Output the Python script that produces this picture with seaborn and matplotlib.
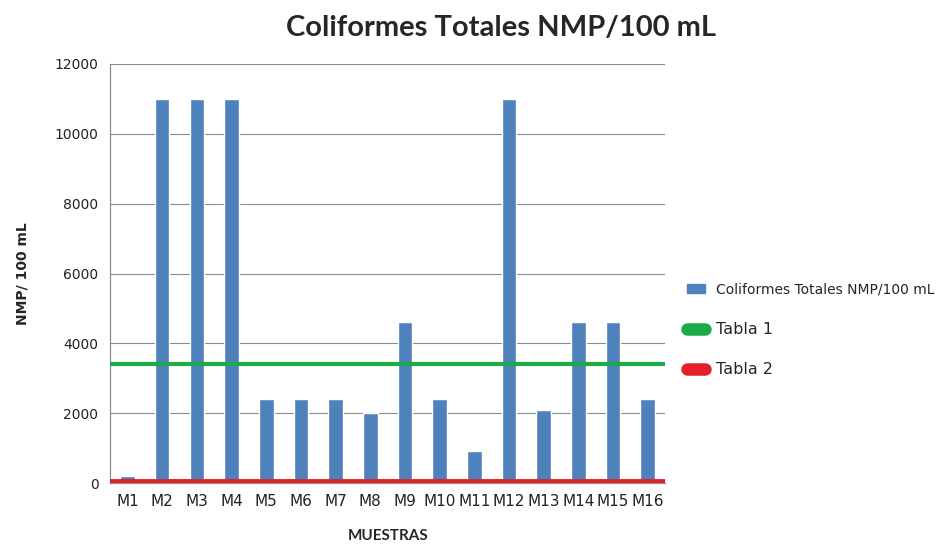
import matplotlib
matplotlib.use("Agg")
import matplotlib.pyplot as plt
import seaborn as sns
import pandas as pd
from matplotlib.lines import Line2D
from matplotlib.patches import Patch

# datos
muestras = ['M1', 'M2', 'M3', 'M4', 'M5', 'M6', 'M7', 'M8',
            'M9', 'M10', 'M11', 'M12', 'M13', 'M14', 'M15', 'M16']
coliformes = [220, 11000, 11000, 11000, 2400, 2400, 2400, 2000,
              4600, 2400, 930, 11000, 2100, 4600, 4600, 2400]
tabla1 = 3400
tabla2 = 60

azul = '#4F81BD'
verde = '#1DAA4B'
rojo = '#E3202A'

df = pd.DataFrame({'Muestra': muestras, 'Valor': coliformes})

sns.set_style('white')
plt.rcParams['font.family'] = ['DejaVu Sans']

fig = plt.figure(figsize=(9.5, 5.46), dpi=100)
ax = fig.add_axes([0.116, 0.115, 0.584, 0.768])

sns.barplot(data=df, x='Muestra', y='Valor', color=azul, width=0.42,
            saturation=1, ax=ax, zorder=2)
ax.axhline(tabla1, color=verde, lw=3, zorder=3)
ax.axhline(tabla2, color=rojo, lw=3.5, zorder=3)

ax.set_ylim(0, 12000)
ax.set_xlim(-0.5, len(muestras) - 0.5)
ax.set_yticks(range(0, 12001, 2000))
ax.yaxis.grid(True, color='#8C8C8C', lw=0.8, zorder=0)
ax.set_axisbelow(True)

for s in ['top', 'right']:
    ax.spines[s].set_visible(False)
for s in ['left', 'bottom']:
    ax.spines[s].set_color('#8C8C8C')
    ax.spines[s].set_linewidth(0.9)

ax.tick_params(axis='y', length=5, color='#8C8C8C', labelsize=10, labelcolor='#222222')
ax.tick_params(axis='x', which='major', length=0, labelsize=11, labelcolor='#222222', pad=8)
ax.set_xticks([i - 0.5 for i in range(len(muestras) + 1)], minor=True)
ax.tick_params(axis='x', which='minor', length=5, color='#8C8C8C')

ax.set_xlabel('MUESTRAS', fontsize=11, fontweight='bold', family='Lato', labelpad=14)
ax.set_ylabel('NMP/ 100 mL', fontsize=10, fontweight='bold', labelpad=18)
fig.suptitle('Coliformes Totales NMP/100 mL', x=0.527, y=0.972, fontsize=21,
             fontweight='bold', family='Lato')

handles = [
    Patch(facecolor=azul, edgecolor=azul),
    Line2D([0], [0], color=verde, lw=9, solid_capstyle='round'),
    Line2D([0], [0], color=rojo, lw=9, solid_capstyle='round'),
]
labels = ['Coliformes Totales NMP/100 mL', 'Tabla 1', 'Tabla 2']
leg = fig.legend(handles, labels, loc='upper left', bbox_to_anchor=(0.71, 0.505),
                 frameon=False, fontsize=10, labelspacing=1.8,
                 handlelength=1.3, handleheight=0.6, handletextpad=0.8)
for t in leg.get_texts()[1:]:
    t.set_fontsize(11.5)

fig.savefig('out.png', dpi=100, facecolor='white')
